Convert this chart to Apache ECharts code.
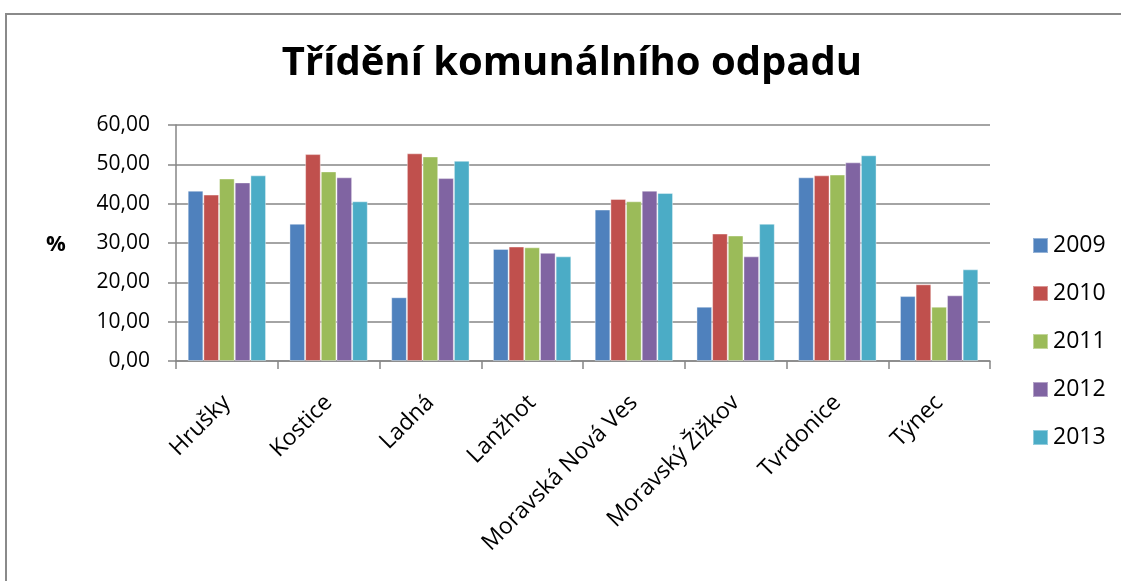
<!DOCTYPE html>
<html><head><meta charset="utf-8">
<script src="https://cdn.jsdelivr.net/npm/echarts@6/dist/echarts.min.js"></script>
<style>html,body{margin:0;padding:0;background:#fff}#c{width:1121px;height:581px}</style>
</head><body><div id="c"></div>
<script>
const categories = ["Hrušky","Kostice","Ladná","Lanžhot","Moravská Nová Ves","Moravský Žižkov","Tvrdonice","Týnec"];
const years = ["2009","2010","2011","2012","2013"];
const v2009 = [43.3,34.9,16.2,28.5,38.5,13.8,46.7,16.5];
const v2010 = [42.3,52.6,52.8,29.1,41.2,32.4,47.2,19.5];
const v2011 = [46.4,48.2,52.0,28.9,40.6,31.9,47.4,13.8];
const v2012 = [45.4,46.7,46.5,27.5,43.3,26.6,50.5,16.7];
const v2013 = [47.2,40.6,50.9,26.6,42.7,34.9,52.3,23.3];
const seriesValues = [v2009,v2010,v2011,v2012,v2013];
const colors = ["#4F81BD","#C0504D","#9BBB59","#8064A2","#4BACC6"];
const font = "Open Sans";
const chart = echarts.init(document.getElementById('c'), null, {renderer:'canvas'});
chart.setOption({
  animation:false,
  textStyle:{fontFamily:font},
  graphic:[
    {type:'rect',shape:{x:6,y:14,width:1130,height:580},style:{fill:'none',stroke:'#8a8a8a',lineWidth:2},z:-1},
    {type:'text',x:572,y:64,style:{text:'Třídění komunálního odpadu',font:'bold 40px "Open Sans"',fill:'#000',textAlign:'center',textVerticalAlign:'middle'}},
    {type:'text',x:46,y:245,style:{text:'%',font:'bold 22px "Open Sans"',fill:'#000',textVerticalAlign:'middle'}}
  ],
  legend:{orient:'vertical',left:1032,top:234,padding:0,itemWidth:15,itemHeight:15,itemGap:25,
    icon:'rect',textStyle:{fontSize:23,color:'#000',fontFamily:font},data:years},
  grid:{left:176,right:131,top:125,bottom:220,containLabel:false},
  xAxis:{type:'category',data:categories,
    axisLine:{lineStyle:{color:'#868686',width:1.5}},
    axisTick:{show:true,length:8,lineStyle:{color:'#868686',width:1.5}},
    axisLabel:{interval:0,rotate:45,fontSize:23,color:'#000',margin:38,fontFamily:font}},
  yAxis:{type:'value',min:0,max:60,interval:10,
    axisLine:{show:true,lineStyle:{color:'#868686',width:1.5}},
    axisTick:{show:true,length:8,lineStyle:{color:'#868686',width:1.5}},
    splitLine:{lineStyle:{color:'#868686',width:1.5}},
    axisLabel:{fontSize:21,color:'#000',margin:26,fontFamily:font,
      formatter:v=>v.toFixed(2).replace('.',',')}},
  series:years.map((y,i)=>({name:y,type:'bar',data:seriesValues[i],barGap:'0%',barCategoryGap:'23%',
    itemStyle:{color:colors[i],borderColor:'rgba(255,255,255,0.4)',borderWidth:1}}))
});
</script></body></html>
